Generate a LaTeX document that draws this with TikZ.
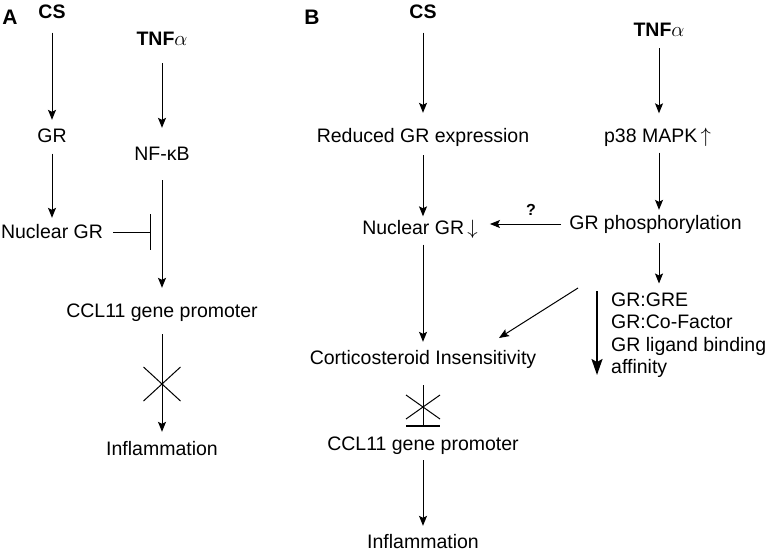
\documentclass[tikz,border=0pt]{standalone}
\usepackage{fontspec}
\setmainfont{Liberation Sans}
\usetikzlibrary{arrows.meta}
\begin{document}
\begin{tikzpicture}[x=1pt,y=-1pt,
  lbl/.style={inner sep=0pt,text height=14pt,text depth=4pt,font=\fontsize{19.5}{22.5}\selectfont},
  blbl/.style={lbl,font=\fontsize{19.5}{22.5}\selectfont\bfseries},
  panel/.style={inner sep=0pt,font=\fontsize{21}{24}\selectfont\bfseries},
  arr/.style={line width=1pt,-{Stealth[length=10pt,width=8pt,inset=2pt]}},
  thickarr/.style={line width=2pt,-{Stealth[length=16pt,width=11pt,inset=3pt]}},
  inh/.style={line width=1pt,-{Bar[width=36pt,line width=1.5pt]}},
  plain/.style={line width=1pt}]
\useasboundingbox (0,0) rectangle (775,555);
% ---------- Panel A ----------
\node[panel] (labA) at (10,17) {A};
\node[blbl] (csA) at (52,13.5) {CS};
\node[lbl] (grA) at (52,137.5) {GR};
\node[lbl] (ngrA) at (52,233) {Nuclear GR};
\node[blbl] (tnfA) at (162,40) {TNF\mdseries$\alpha$};
\node[lbl] (nfkbA) at (162,155) {NF-κB};
\node[lbl] (cclA) at (162,312) {CCL11 gene promoter};
\node[lbl] (inflA) at (162,450) {Inflammation};
\coordinate (barA) at (151,232);
\coordinate (xA) at (162,384);
\draw[arr,shorten <=10pt,shorten >=8.5pt] (csA.south) -- (grA.north);
\draw[arr,shorten <=7pt,shorten >=6pt] (grA.south) -- (ngrA.north);
\draw[arr,shorten <=14pt,shorten >=18pt] (tnfA.south) -- (nfkbA.north);
\draw[arr,shorten <=16pt,shorten >=15pt] (nfkbA.south) -- (cclA.north);
\draw[inh,shorten <=10pt] (ngrA.east |- barA) -- (barA);
\draw[arr,shorten <=13pt,shorten >=9pt] (cclA.south) -- (inflA.north);
\draw[plain] ([shift={(-18.5,-17)}]xA) -- ([shift={(18.5,17)}]xA);
\draw[plain] ([shift={(-18.5,17)}]xA) -- ([shift={(18.5,-17)}]xA);
% ---------- Panel B ----------
\node[panel] (labB) at (312,17) {B};
\node[blbl] (csB) at (423,13.5) {CS};
\node[lbl] (redB) at (423,137) {Reduced GR expression};
\node[lbl] (ngrB) at (420,229.5) {Nuclear GR\,$\downarrow$};
\node[lbl] (cisB) at (423,359) {Corticosteroid Insensitivity};
\node[lbl] (cclB) at (423,445) {CCL11 gene promoter};
\node[lbl] (inflB) at (423,543) {Inflammation};
\node[blbl] (tnfB) at (659,31) {TNF\mdseries$\alpha$};
\node[lbl] (p38B) at (657.5,137.5) {p38 MAPK\,$\uparrow$};
\node[lbl] (gpB) at (655.5,224) {GR phosphorylation};
\node[inner sep=0pt,font=\fontsize{16}{18}\selectfont\bfseries] (qB) at (531,210) {?};
\node[inner sep=0pt,anchor=north west,align=left,font=\fontsize{19.5}{22.5}\selectfont] (effB) at (611,292.5)
  {GR:GRE\\GR:Co-Factor\\GR ligand binding\\affinity};
\coordinate (colB) at (423,0);
\coordinate (colT) at (659,0);
\coordinate (dS) at (578,288);
\coordinate (dE) at (499,338);
\coordinate (tS) at (597,291);
\coordinate (tE) at (597,375);
\coordinate (xB) at (423,407);
\coordinate (barB) at (423,426);
\draw[arr,shorten <=10pt,shorten >=15pt] (csB.south) -- (csB.south |- redB.north);
\draw[arr,shorten <=9pt,shorten >=4pt] (redB.south) -- (redB.south |- ngrB.north);
\draw[arr,shorten <=6pt,shorten >=8pt] (redB.south |- ngrB.south) -- (redB.south |- cisB.north);
\draw[arr,shorten <=8pt,shorten >=12pt] (gpB.west) -- (gpB.west -| ngrB.east);
\draw[arr,shorten <=8pt,shorten >=15pt] (colT |- tnfB.south) -- (colT |- p38B.north);
\draw[arr,shorten <=6pt,shorten >=5pt] (colT |- p38B.south) -- (colT |- gpB.north);
\draw[arr,shorten <=10pt,shorten >=9pt] (colT |- gpB.south) -- (colT |- effB.north);
\draw[arr] (dS) -- (dE);
\draw[thickarr] (tS) -- (tE);
\draw[plain] (colB |- cisB.south) ++(0,17) -- (barB);
\draw[line width=1.2pt] ([xshift=-17pt]barB) -- ([xshift=17pt]barB);
\draw[plain] ([shift={(-17,-12)}]xB) -- ([shift={(17,12)}]xB);
\draw[plain] ([shift={(-17,12)}]xB) -- ([shift={(17,-12)}]xB);
\draw[arr,shorten <=6pt,shorten >=8pt] (cclB.south) -- (inflB.north);
\end{tikzpicture}
\end{document}
